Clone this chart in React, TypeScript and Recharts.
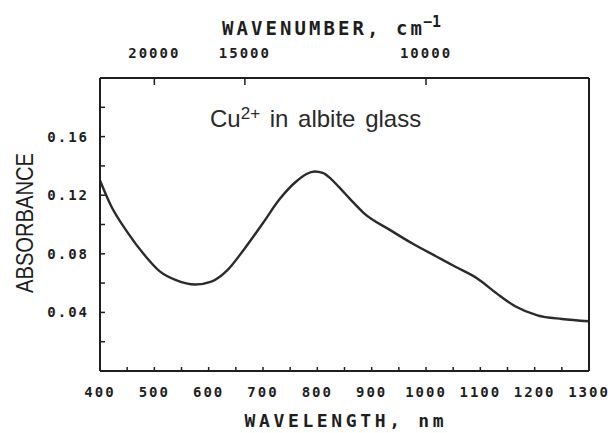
import { Label, Line, LineChart, XAxis, YAxis } from "recharts";

// spectrum: wavelength (nm) and absorbance
const wavelengthNm = [
  400, 420, 450, 480, 510, 540, 575, 605, 635, 665, 700, 730, 760, 780, 795,
  810, 825, 840, 860, 885, 935, 975, 1020, 1055, 1095, 1130, 1165, 1205, 1250,
  1300
];
const absorbance = [
  0.13, 0.113, 0.095, 0.08, 0.068, 0.062, 0.059, 0.061, 0.069, 0.083, 0.101,
  0.117, 0.129, 0.1345, 0.1362, 0.1352, 0.1312, 0.1255, 0.1175, 0.108, 0.096,
  0.087, 0.078, 0.071, 0.063, 0.053, 0.044, 0.038, 0.0355, 0.034
];

const wavelengthTicks = [
  400, 450, 500, 550, 600, 650, 700, 750, 800, 850, 900, 950, 1000, 1050, 1100,
  1150, 1200, 1250, 1300
];
const wavelengthLabels = [400, 500, 600, 700, 800, 900, 1000, 1100, 1200, 1300];
const topMinorTicks = [
  450, 500, 550, 600, 700, 750, 800, 850, 900, 950, 1050, 1100, 1150, 1200, 1250
];
const wavenumberTicks = [20000, 15000, 10000];
const absorbanceTicks = [0.02, 0.04, 0.06, 0.08, 0.1, 0.12, 0.14, 0.16, 0.18];
const absorbanceLabels = [0.04, 0.08, 0.12, 0.16];

const rows = wavelengthNm.map((nm, i) => ({ nm, abs: absorbance[i] }));

const MONO = "'DejaVu Sans Mono', monospace";
const SANS = "'Liberation Sans', Arial, sans-serif";
const INK = "#1e1e1e";

const tickStyle = {
  fontFamily: MONO,
  fontSize: 14,
  fontWeight: 700,
  fill: INK,
  letterSpacing: 2
};
const axisStyle = { stroke: INK, strokeWidth: 2 };
const tickLineStyle = { stroke: INK, strokeWidth: 1.5 };
const blank = () => "";

const XTitle = () => (
  <text
    x={344}
    y={427}
    textAnchor="middle"
    fontFamily={MONO}
    fontWeight={700}
    fontSize={18}
    textLength={199}
    lengthAdjust="spacing"
    fill={INK}
  >
    WAVELENGTH, nm
  </text>
);

const TopTitle = () => (
  <g>
    <text
      x={222}
      y={35}
      fontFamily={MONO}
      fontWeight={700}
      fontSize={19}
      textLength={200}
      lengthAdjust="spacing"
      fill={INK}
    >
      WAVENUMBER, cm
    </text>
    <text x={423} y={27} fontFamily={MONO} fontWeight={700} fontSize={15} fill={INK}>
      −1
    </text>
  </g>
);

// y title plus the in-plot note
const YTitle = () => (
  <g>
    <text
      x={33}
      y={223}
      transform="rotate(-90 33 223)"
      textAnchor="middle"
      fontFamily={SANS}
      fontSize={24}
      textLength={140}
      lengthAdjust="spacingAndGlyphs"
      fill={INK}
    >
      ABSORBANCE
    </text>
    <text x={210} y={127} fontFamily={SANS} fontSize={24} wordSpacing={3} fill="#2a2a2a">
      Cu
      <tspan dy={-8} fontSize={17}>
        2+
      </tspan>
      <tspan dy={8}> in albite glass</tspan>
    </text>
  </g>
);

export default function App() {
  return (
    <div style={{ position: "absolute", left: 0, top: 0, width: 616, height: 433, background: "#fff" }}>
      <LineChart width={616} height={433} data={rows} margin={{ top: 0, right: 0, bottom: 0, left: 0 }}>
        <XAxis
          xAxisId="bottom"
          type="number"
          dataKey="nm"
          domain={[400, 1300]}
          ticks={wavelengthTicks}
          interval={0}
          height={62}
          tickSize={-4}
          tickMargin={20}
          tick={tickStyle}
          tickFormatter={(v) => (wavelengthLabels.includes(v) ? String(v) : "")}
          axisLine={axisStyle}
          tickLine={tickLineStyle}
        >
          <Label content={XTitle} />
        </XAxis>
        <XAxis
          xAxisId="topMinor"
          orientation="top"
          type="number"
          dataKey="nm"
          domain={[400, 1300]}
          ticks={topMinorTicks}
          interval={0}
          height={0}
          tickSize={-4}
          tick={tickStyle}
          tickFormatter={blank}
          axisLine={axisStyle}
          tickLine={tickLineStyle}
        />
        <XAxis
          xAxisId="topMajor"
          orientation="top"
          type="number"
          dataKey="nm"
          domain={[400, 1300]}
          ticks={wavenumberTicks.map((w) => 1e7 / w)}
          interval={0}
          height={78}
          tickSize={-7}
          tickMargin={27}
          tick={tickStyle}
          tickFormatter={(v) => String(Math.round(1e7 / v))}
          axisLine={axisStyle}
          tickLine={tickLineStyle}
        >
          <Label content={TopTitle} />
        </XAxis>
        <YAxis
          yAxisId="left"
          type="number"
          domain={[0, 0.2]}
          ticks={absorbanceTicks}
          interval={0}
          width={100}
          tickSize={-5}
          tickMargin={16}
          tick={tickStyle}
          tickFormatter={(v) => (absorbanceLabels.includes(v) ? v.toFixed(2) : "")}
          axisLine={axisStyle}
          tickLine={tickLineStyle}
        >
          <Label content={YTitle} />
        </YAxis>
        <YAxis
          yAxisId="right"
          orientation="right"
          type="number"
          domain={[0, 0.2]}
          ticks={absorbanceTicks}
          interval={0}
          width={27}
          tickSize={-5}
          tick={tickStyle}
          tickFormatter={blank}
          axisLine={axisStyle}
          tickLine={tickLineStyle}
        />
        <Line
          xAxisId="bottom"
          yAxisId="left"
          type="monotone"
          dataKey="abs"
          stroke="#2b2b2b"
          strokeWidth={2.4}
          dot={false}
          isAnimationActive={false}
        />
      </LineChart>
    </div>
  );
}
